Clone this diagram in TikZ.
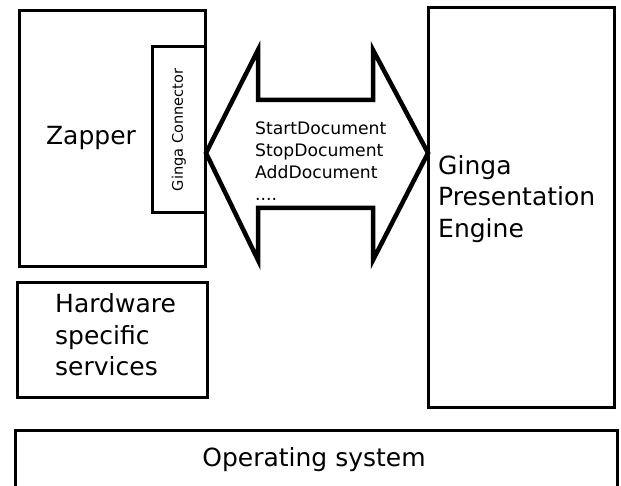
\documentclass[tikz,border=0pt]{standalone}
\usepackage{fontspec}
\setmainfont{DejaVu Sans}
\usepackage{tikz}

\tikzset{
  blockbox/.style={draw, line width=3pt, rectangle, inner sep=0pt, outer sep=0pt},
  bigtxt/.style={align=left, inner sep=0pt, font=\fontsize{25}{31.5}\selectfont},
  msgtxt/.style={align=left, inner sep=0pt, font=\fontsize{17.2}{22}\selectfont},
}

\begin{document}
\begin{tikzpicture}[x=1pt,y=-1pt]
\useasboundingbox (0,0) rectangle (621,486);
\clip (0,0) rectangle (621,486);
% left side: zapper with its connector
\node[blockbox, minimum width=186pt, minimum height=256pt] (zapper) at (112,139) {};
\node[blockbox, minimum width=52.5pt, minimum height=166.5pt, fill=white] (conn) at (178.75,129.75) {};
\node[rotate=90, inner sep=0pt, font=\fontsize{14.6}{17}\selectfont] (conntxt) at (conn.center) {Ginga Connector};
\node[bigtxt] (zappertxt) at (91,138) {Zapper};
\node[blockbox, minimum width=190pt, minimum height=114pt] (hw) at (112,340) {};
\node[bigtxt, anchor=west] (hwtxt) at (55,335) {Hardware\\specific\\services};
% right side
\node[blockbox, minimum width=186pt, minimum height=399pt] (engine) at (521,207.5) {};
\node[bigtxt, anchor=west] (enginetxt) at (438,199) {Ginga\\Presentation\\Engine};
% bottom
\node[blockbox, minimum width=602pt, minimum height=90pt] (os) at (316,475) {};
\node[bigtxt] (ostxt) at (314,460) {Operating system};
% the big double arrow
\coordinate (tipL) at (206,153);
\coordinate (tipR) at (428,153);
\draw[line width=4.5pt, miter limit=10] (tipL) -- ++(52,-103) -- ++(0,50) -- ++(115,0) -- ++(0,-50)
  -- (tipR) -- ++(-55,107) -- ++(0,-52) -- ++(-115,0) -- ++(0,52) -- cycle;
\node[msgtxt, anchor=west] (msgs) at (255,161) {StartDocument\\StopDocument\\AddDocument\\....};
\end{tikzpicture}
\end{document}
